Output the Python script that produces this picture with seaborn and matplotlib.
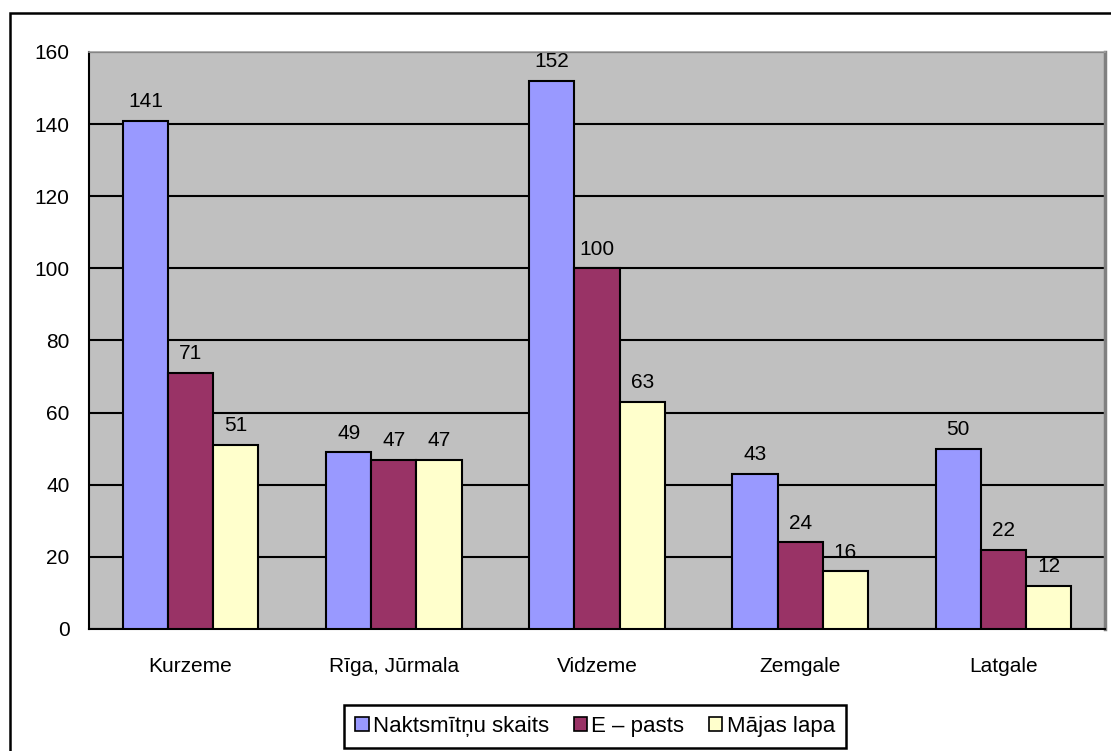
import matplotlib
matplotlib.use("Agg")
import matplotlib.pyplot as plt
import matplotlib.patches as mpatches
import seaborn as sns
import pandas as pd

# dati
regioni = ["Kurzeme", "Rīga, Jūrmala", "Vidzeme", "Zemgale", "Latgale"]
naktsmitnu_skaits = [141, 49, 152, 43, 50]
e_pasts = [71, 47, 100, 24, 22]
majas_lapa = [51, 47, 63, 16, 12]
serijas = ["Naktsmītņu skaits", "E – pasts", "Mājas lapa"]
krasas = ["#9999FF", "#993366", "#FFFFCC"]

df = pd.DataFrame({
    "regions": regioni * 3,
    "vertiba": naktsmitnu_skaits + e_pasts + majas_lapa,
    "serija": [serijas[0]] * 5 + [serijas[1]] * 5 + [serijas[2]] * 5,
})

sns.set_style("white")
plt.rcParams["font.family"] = ["Liberation Sans", "DejaVu Sans"]
plt.rcParams["text.color"] = "black"
plt.rcParams["xtick.color"] = "black"
plt.rcParams["ytick.color"] = "black"

fig = plt.figure(figsize=(11.11, 7.51), dpi=100)
ax = fig.add_axes([89 / 1111, 1 - 629 / 751, (1105 - 89) / 1111, (629 - 52) / 751])

# ārējais rāmis
fig.patches.append(mpatches.Rectangle((10 / 1111, -0.05), 1.2, 1 - 13 / 751 + 0.05,
                                      transform=fig.transFigure, fill=False,
                                      edgecolor="black", linewidth=1.8, zorder=0))

ax.set_facecolor("#C0C0C0")
ax = sns.barplot(data=df, x="regions", y="vertiba", hue="serija", palette=krasas,
                 hue_order=serijas, width=3 / 4.5, gap=0, edgecolor="black",
                 linewidth=1.5, saturation=1, ax=ax, zorder=3)

ax.set_ylim(0, 160)
ax.set_xlim(-0.5, 4.5)
ax.set_yticks(range(0, 161, 20))
ax.yaxis.grid(True, color="black", linewidth=1.5, zorder=1)
ax.set_axisbelow(True)
ax.set_xticks([0, 1, 2, 3, 4])
ax.set_xticklabels(regioni, fontsize=15)
ax.set_xticks([-0.5, 0.5, 1.5, 2.5, 3.5, 4.5], minor=True)
ax.tick_params(axis="x", which="major", length=0, pad=20)
ax.tick_params(axis="x", which="minor", length=7, width=1.5, direction="out", color="black")
ax.tick_params(axis="y", length=9, width=1.5, direction="out", color="black", labelsize=15, pad=5)
ax.set_xlabel("")
ax.set_ylabel("")

for s in ["left", "bottom"]:
    ax.spines[s].set_color("black")
    ax.spines[s].set_linewidth(1.5)
ax.spines["right"].set_color("#808080")
ax.spines["right"].set_linewidth(2.5)
ax.spines["top"].set_color("#A0A0A0")
ax.spines["top"].set_linewidth(1.2)

for c in ax.containers:
    ax.bar_label(c, fmt="%d", padding=7, fontsize=15)

ax.get_legend().remove()
roktrs = [mpatches.Patch(facecolor=k, edgecolor="black", linewidth=1.2) for k in krasas]
leg = fig.legend(roktrs, serijas, loc="lower center", bbox_to_anchor=(595 / 1111, 3 / 751),
                 ncol=3, fontsize=16, frameon=True, fancybox=False, framealpha=1,
                 edgecolor="black", handlelength=0.6, handleheight=0.6,
                 handletextpad=0.2, columnspacing=1.1, borderpad=0.5,
                 borderaxespad=0)
leg.get_frame().set_linewidth(1.8)

fig.savefig("out.png", dpi=100)
